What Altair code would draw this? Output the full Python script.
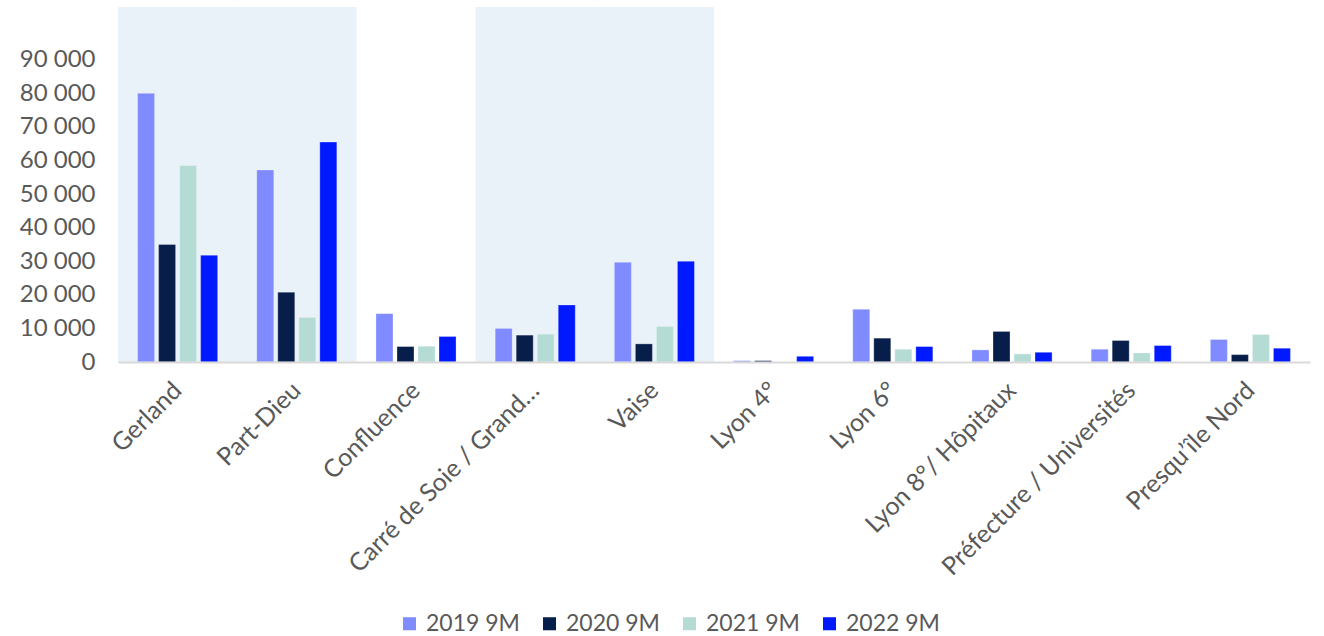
import altair as alt
import pandas as pd

# Zones of the Lyon office market, in axis order
zones = [
    "Gerland",
    "Part-Dieu",
    "Confluence",
    "Carré de Soie / Grand…",
    "Vaise",
    "Lyon 4°",
    "Lyon 6°",
    "Lyon 8°/ Hôpitaux",
    "Préfecture / Universités",
    "Presqu’île Nord",
]

# Take-up (m²) over the first nine months of each year
periods = ["2019 9M", "2020 9M", "2021 9M", "2022 9M"]
take_up_2019 = [80000, 57200, 14400, 10000, 29700, 400, 15700, 3600, 3800, 6700]
take_up_2020 = [35000, 20800, 4600, 8000, 5400, 400, 7100, 9100, 6400, 2200]
take_up_2021 = [58500, 13300, 4700, 8300, 10600, 0, 3800, 2400, 2700, 8200]
take_up_2022 = [31800, 65500, 7600, 17000, 30000, 1700, 4600, 2900, 4900, 4100]

colors = ["#7F8BFF", "#071E4A", "#B4DCD5", "#0019FF"]

# Highlighted zones (background panels)
highlighted = ["Gerland", "Part-Dieu", "Carré de Soie / Grand…", "Vaise"]

Y_MAX = 105700
TICKS = list(range(0, 90001, 10000))

series = [take_up_2019, take_up_2020, take_up_2021, take_up_2022]
rows = []
for period, values in zip(periods, series):
    for zone, v in zip(zones, values):
        rows.append({"zone": zone, "period": period, "value": v})
bars_df = pd.DataFrame(rows)

panel_df = pd.DataFrame({"zone": highlighted, "low": 0, "high": Y_MAX})

FONT = "Lato"
GREY = "#595959"

x_enc = alt.X(
    "zone:N",
    sort=zones,
    title=None,
    scale=alt.Scale(paddingInner=0, paddingOuter=0),
    axis=alt.Axis(
        labelAngle=-45,
        labelAlign="right",
        labelBaseline="middle",
        labelFont=FONT,
        labelFontSize=25,
        labelColor=GREY,
        labelPadding=24,
        labelLimit=400,
        labelOverlap=False,
        ticks=False,
        domainColor="#D9D9D9",
        domainWidth=2,
        grid=False,
    ),
)

y_scale = alt.Scale(domain=[0, Y_MAX], nice=False)
y_axis = alt.Axis(
    values=TICKS,
    labelExpr="replace(format(datum.value, ','), ',', ' ')",
    labelFont=FONT,
    labelFontSize=24,
    labelColor=GREY,
    labelPadding=23,
    labelOverlap=False,
    labelBound=False,
    ticks=False,
    domain=False,
    grid=False,
)

panels = alt.Chart(panel_df).mark_rect(color="#E9F1F9").encode(
    x=x_enc,
    y=alt.Y("low:Q", scale=y_scale, title=None, axis=y_axis),
    y2="high:Q",
)

bars = alt.Chart(bars_df).mark_bar(stroke="#FFFFFF", strokeWidth=0.6, strokeOpacity=0.5).encode(
    x=x_enc,
    xOffset=alt.XOffset(
        "period:N",
        sort=periods,
        scale=alt.Scale(paddingInner=0.19, paddingOuter=0.93),
    ),
    y=alt.Y("value:Q", scale=y_scale, title=None, axis=y_axis),
    color=alt.Color(
        "period:N",
        sort=periods,
        scale=alt.Scale(domain=periods, range=colors),
        legend=alt.Legend(
            title=None,
            orient="none",
            direction="horizontal",
            legendX=280,
            legendY=605,
            symbolType="square",
            symbolSize=170,
            symbolStrokeWidth=0,
            labelFont=FONT,
            labelFontSize=23,
            labelColor=GREY,
            labelOffset=5,
            columnPadding=18,
        ),
    ),
)

chart = (
    alt.layer(panels, bars)
    .properties(
        width=1192,
        height=355,
        background="#FFFFFF",
        autosize=alt.AutoSizeParams(type="none"),
        padding={"left": 118, "top": 7, "right": 14, "bottom": 274},
    )
    .configure_view(stroke="transparent", strokeWidth=0)
)

chart.save("out.html", embed_options={"renderer": "svg", "actions": False})
